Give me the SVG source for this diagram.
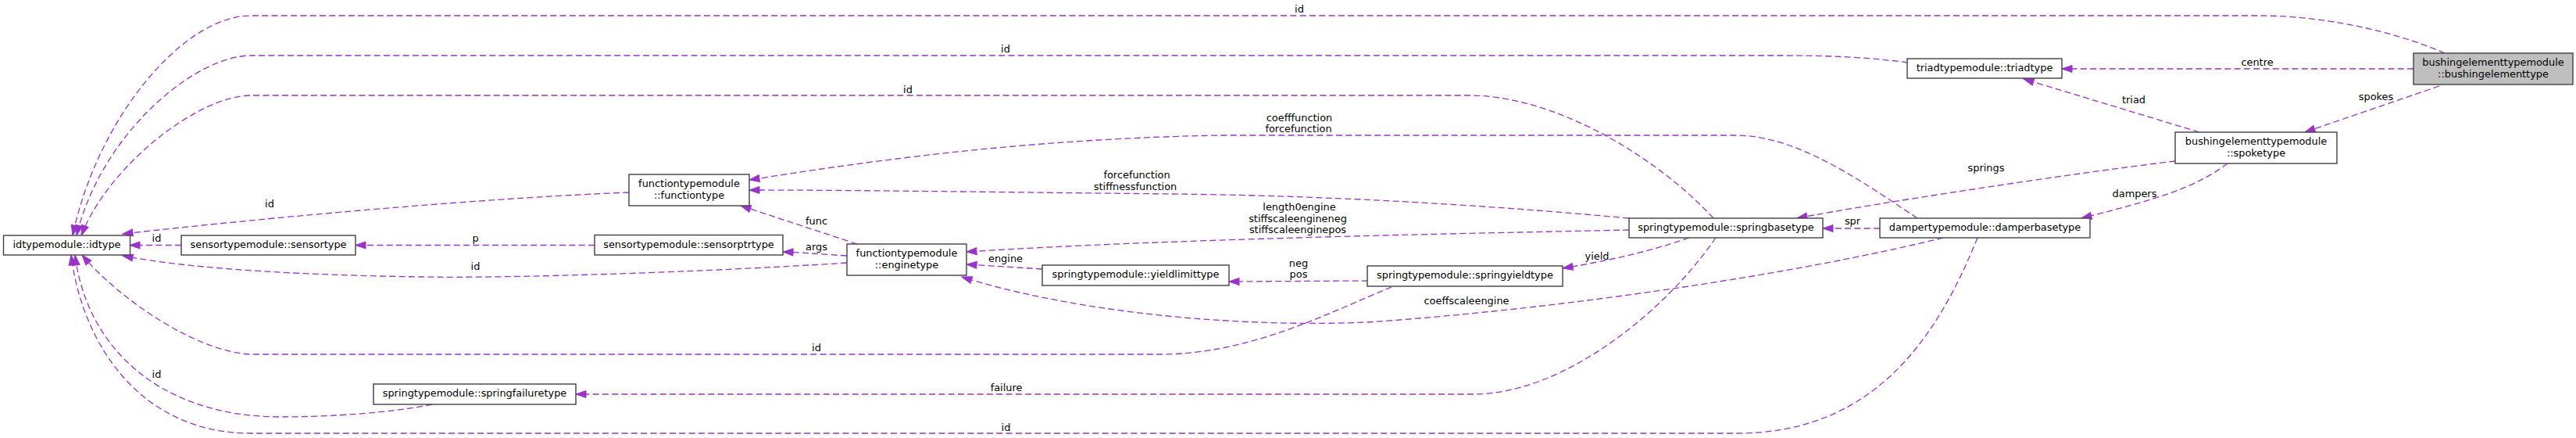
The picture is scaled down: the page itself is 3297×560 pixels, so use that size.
<svg xmlns="http://www.w3.org/2000/svg" width="3297" height="560" viewBox="0 0 3297 560">
<style>
.n rect{fill:#ffffff;stroke:#404040;stroke-width:1.4}
.root rect{fill:#bfbfbf}
text{font-family:"DejaVu Sans","Liberation Sans",sans-serif;font-size:12.9px;fill:#000000}
.n text{text-anchor:middle}
.lb text{text-anchor:middle}
.e path{fill:none;stroke:#9a32cd;stroke-width:1.3;stroke-dasharray:8,4.3;marker-end:url(#arr)}
</style>
<defs>
<marker id="arr" markerUnits="userSpaceOnUse" markerWidth="16" markerHeight="12" viewBox="0 0 16 12" refX="14" refY="5.5" orient="auto">
<path d="M1,1 L14,5.5 L1,10 Z" fill="#9a32cd" stroke="#9a32cd" stroke-width="1" stroke-dasharray="none"/>
</marker>
</defs>
<rect width="3297" height="560" fill="#ffffff"/>
<g id="connectors" class="e">
<path d="M3129,68 C3060,38 2970,20 2890,20 L321,20 C235,20 125,150 93,301"/>
<path d="M2442,80 C2390,73 2340,71 2280,71 L321,71 C250,71 130,170 98,301"/>
<path d="M2193,279 C2120,200 1990,122 1880,122 L321,122 C255,122 140,210 104,301"/>
<path d="M2454,279 C2380,230 2300,173 2221,173 L1560,173 C1300,178 1100,208 959,230"/>
<path d="M2085,279 C1900,262 1700,250 1500,248 C1300,246 1100,243 959,243"/>
<path d="M2085,294 C1900,298 1500,305 1237,322"/>
<path d="M2487,304 C2300,350 2000,395 1750,412 C1550,420 1350,392 1231,354"/>
<path d="M2531,304 C2480,430 2400,554 2223,554 L321,554 C180,554 105,440 91,326"/>
<path d="M1781,367 C1700,400 1600,453 1485,453 L321,453 C250,450 150,380 105,326"/>
<path d="M2196,304 C2130,400 2000,504 1886,504 L737,504"/>
<path d="M553,517 C500,528 420,533 360,533 C200,533 110,440 96,326"/>
<path d="M1084,336 C900,348 650,356 540,354 C400,352 250,345 157,327"/>
<path d="M805,246 C650,252 400,272 157,299"/>
<path d="M232,313.5 L166,313.5"/>
<path d="M761,313.5 L455,313.5"/>
<path d="M1084,327 C1050,325 1030,323 1002,322"/>
<path d="M1097,312 L948,263"/>
<path d="M1334,344 L1237,338"/>
<path d="M1751,359 L1573,360"/>
<path d="M2162,304 C2110,322 2060,333 2000,343"/>
<path d="M2406,292 L2333,292"/>
<path d="M2784,206 C2650,222 2400,260 2300,279"/>
<path d="M2815,169 L2590,101"/>
<path d="M3122,110 L2950,169"/>
<path d="M2851,209 C2810,240 2760,255 2664,279"/>
<path d="M3089,88 L2639,88"/>
</g>
<g id="edge-labels" class="lb">
<text x="1663" y="16">id</text>
<text x="1287" y="67">id</text>
<text x="1162" y="119">id</text>
<text x="2889" y="84">centre</text>
<text x="3041" y="128">spokes</text>
<text x="2731" y="132">triad</text>
<text x="2542" y="219">springs</text>
<text x="2732" y="252">dampers</text>
<text x="2371" y="287">spr</text>
<text x="1663" y="155">coefffunction</text>
<text x="1662" y="169">forcefunction</text>
<text x="1455" y="228">forcefunction</text>
<text x="1453" y="243">stiffnessfunction</text>
<text x="1663" y="269">length0engine</text>
<text x="1661" y="283.5">stiffscaleengineneg</text>
<text x="1661" y="298">stiffscaleenginepos</text>
<text x="2044" y="331.5">yield</text>
<text x="1877" y="389">coeffscaleengine</text>
<text x="1662" y="341">neg</text>
<text x="1662" y="355">pos</text>
<text x="1287" y="335">engine</text>
<text x="1045" y="286.5">func</text>
<text x="1045" y="319.5">args</text>
<text x="608.5" y="345">id</text>
<text x="608.5" y="309">p</text>
<text x="200.5" y="309">id</text>
<text x="345" y="265">id</text>
<text x="200.5" y="483">id</text>
<text x="1045" y="448.5">id</text>
<text x="1288" y="500">failure</text>
<text x="1287.5" y="550.5">id</text>
</g>
<g id="idtype" class="n"><rect x="4.5" y="301" width="162" height="25"/><text x="85.5" y="317">idtypemodule::idtype</text></g>
<g id="sensortype" class="n"><rect x="232" y="301" width="223" height="25"/><text x="343.5" y="317">sensortypemodule::sensortype</text></g>
<g id="sensorptrtype" class="n"><rect x="761" y="300.5" width="241" height="25.5"/><text x="881.5" y="317">sensortypemodule::sensorptrtype</text></g>
<g id="functiontype" class="n"><rect x="805" y="223" width="154" height="40"/><text x="882" y="238.5">functiontypemodule</text><text x="882" y="253.5">::functiontype</text></g>
<g id="enginetype" class="n"><rect x="1084" y="312" width="153" height="40"/><text x="1160.5" y="327.5">functiontypemodule</text><text x="1160.5" y="342.5">::enginetype</text></g>
<g id="yieldlimittype" class="n"><rect x="1334" y="339" width="239" height="26"/><text x="1453.5" y="355">springtypemodule::yieldlimittype</text></g>
<g id="springyieldtype" class="n"><rect x="1750" y="340" width="250" height="26"/><text x="1875" y="356">springtypemodule::springyieldtype</text></g>
<g id="springfailuretype" class="n"><rect x="478" y="491" width="259" height="26"/><text x="607.5" y="507">springtypemodule::springfailuretype</text></g>
<g id="springbasetype" class="n"><rect x="2085" y="279" width="248" height="25"/><text x="2209" y="295">springtypemodule::springbasetype</text></g>
<g id="damperbasetype" class="n"><rect x="2406" y="279" width="269" height="25"/><text x="2540.5" y="295">dampertypemodule::damperbasetype</text></g>
<g id="triadtype" class="n"><rect x="2441" y="75" width="198" height="25"/><text x="2540" y="91">triadtypemodule::triadtype</text></g>
<g id="spoketype" class="n"><rect x="2784" y="169" width="207" height="40"/><text x="2887.5" y="184.5">bushingelementtypemodule</text><text x="2887.5" y="199.5">::spoketype</text></g>
<g id="bushingelementtype" class="n root"><rect x="3089" y="68" width="204" height="40"/><text x="3191" y="83.5">bushingelementtypemodule</text><text x="3191" y="98.5">::bushingelementtype</text></g>
</svg>
